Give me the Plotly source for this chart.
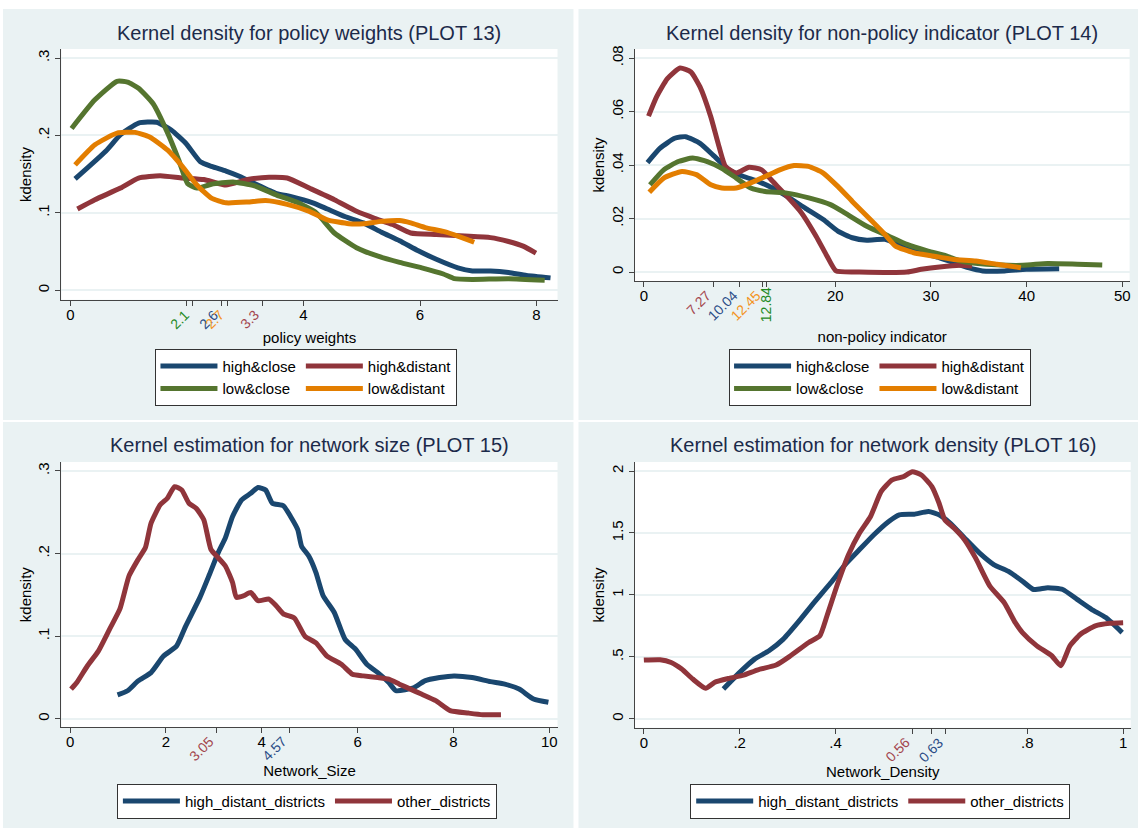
import plotly.graph_objects as go

# ------------------------------------------------------------------ data
# PLOT 13 - kernel density for policy weights
pw_high_close_x = [0.08, 0.61, 0.86, 1.17, 1.48, 1.73, 1.98, 2.23, 2.42, 2.67, 2.91, 3.16, 3.54, 3.79,
                   4.16, 4.41, 4.72, 5.03, 5.34, 5.65, 5.97, 6.28, 6.65, 6.90, 7.21, 7.52, 7.83, 8.24]
pw_high_close_y = [0.144, 0.180, 0.201, 0.216, 0.217, 0.207, 0.190, 0.166, 0.160, 0.154, 0.147, 0.138, 0.125,
                   0.121, 0.113, 0.105, 0.095, 0.087, 0.075, 0.064, 0.051, 0.040, 0.029, 0.025, 0.025, 0.023,
                   0.019, 0.016]
pw_high_distant_x = [0.12, 0.42, 0.86, 1.17, 1.54, 1.92, 2.29, 2.67, 3.04, 3.41, 3.72, 4.10, 4.53, 4.91,
                     5.22, 5.53, 5.84, 6.28, 6.77, 7.21, 7.52, 7.77, 7.99]
pw_high_distant_y = [0.105, 0.117, 0.132, 0.145, 0.148, 0.145, 0.143, 0.136, 0.143, 0.146, 0.145, 0.132,
                     0.117, 0.102, 0.093, 0.085, 0.074, 0.072, 0.070, 0.068, 0.063, 0.057, 0.048]
pw_low_close_x = [0.02, 0.42, 0.80, 0.98, 1.17, 1.42, 1.67, 1.86, 2.01, 2.17, 2.42, 2.79, 3.16, 3.54,
                  3.91, 4.22, 4.53, 4.91, 5.28, 5.65, 6.03, 6.40, 6.59, 6.90, 7.52, 8.14]
pw_low_close_y = [0.209, 0.246, 0.270, 0.269, 0.261, 0.241, 0.203, 0.168, 0.138, 0.132, 0.137, 0.140,
                  0.135, 0.123, 0.113, 0.100, 0.074, 0.055, 0.044, 0.036, 0.029, 0.021, 0.015, 0.014,
                  0.015, 0.013]
pw_low_distant_x = [0.08, 0.42, 0.80, 1.11, 1.36, 1.67, 1.92, 2.17, 2.42, 2.67, 3.04, 3.35, 3.72, 4.10,
                    4.41, 4.78, 5.03, 5.34, 5.65, 5.84, 6.09, 6.40, 6.65, 6.93]
pw_low_distant_y = [0.162, 0.188, 0.203, 0.204, 0.198, 0.181, 0.160, 0.136, 0.119, 0.113, 0.114, 0.116,
                    0.111, 0.102, 0.091, 0.086, 0.086, 0.089, 0.090, 0.087, 0.081, 0.076, 0.070, 0.062]
pw_mean_vals = [2.1, 2.6, 2.7, 3.3]
pw_mean_text = ["2.1", "2.6", "2.7", "3.3"]
pw_xticks = [0, 2, 4, 6, 8]
pw_xtick_text = ["0", "", "4", "6", "8"]
pw_yticks = [0, 0.1, 0.2, 0.3]
pw_ytick_text = ["0", ".1", ".2", ".3"]

# PLOT 14 - kernel density for non-policy indicator
np_high_close_x = [0.38, 1.70, 3.22, 4.36, 5.87, 7.39, 8.9, 10.42, 11.93, 13.45, 14.96, 16.86, 18.75,
                   20.27, 21.78, 23.3, 25.2, 27.1, 29.0, 30.9, 32.4, 33.9, 35.4, 37.7, 39.96, 43.4]
np_high_close_y = [0.0409, 0.0463, 0.0500, 0.0506, 0.0481, 0.0432, 0.0382, 0.0357, 0.0339, 0.0314,
                   0.0283, 0.0239, 0.0196, 0.0153, 0.0128, 0.0119, 0.0122, 0.0097, 0.0072, 0.0053,
                   0.0035, 0.0016, 0.0004, 0.0004, 0.0010, 0.0012]
np_high_distant_x = [0.49, 1.33, 2.46, 3.79, 4.92, 5.87, 7.0, 7.77, 8.52, 9.66, 10.98, 12.31, 13.45,
                     14.96, 16.48, 18.0, 19.13, 20.08, 22.5, 27.5, 29.0, 30.9, 33.1, 34.3]
np_high_distant_y = [0.0583, 0.0655, 0.0723, 0.0763, 0.0748, 0.0692, 0.058, 0.048, 0.0395, 0.037,
                     0.0392, 0.0382, 0.0339, 0.0283, 0.0221, 0.0134, 0.006, 0.0004, 0.0, 0.0, 0.001,
                     0.0019, 0.0025, 0.0022]
np_low_close_x = [0.64, 2.08, 3.6, 5.11, 6.63, 8.14, 9.66, 11.17, 12.69, 14.96, 17.24, 19.5, 21.0, 23.3,
                  25.6, 27.5, 29.7, 31.6, 33.1, 35.8, 39.6, 42.2, 45.3, 47.9]
np_low_close_y = [0.0326, 0.0382, 0.0413, 0.0426, 0.0413, 0.0388, 0.0351, 0.0314, 0.0301, 0.0295,
                  0.0277, 0.0252, 0.0221, 0.0171, 0.0134, 0.0103, 0.0078, 0.006, 0.0041, 0.0029,
                  0.0025, 0.0032, 0.0029, 0.0026]
np_low_distant_x = [0.57, 2.08, 3.98, 5.49, 7.0, 8.14, 9.66, 11.17, 12.69, 14.2, 15.7, 17.2, 18.75,
                    20.27, 21.78, 23.67, 25.2, 26.3, 28.2, 30.1, 32.4, 34.7, 36.9, 39.4]
np_low_distant_y = [0.0298, 0.0351, 0.0376, 0.0364, 0.0326, 0.0314, 0.0314, 0.0333, 0.0357, 0.0382,
                    0.0398, 0.0395, 0.037, 0.032, 0.0264, 0.0196, 0.014, 0.0097, 0.0072, 0.006,
                    0.0047, 0.0041, 0.0029, 0.0016]
np_mean_vals = [7.27, 10.04, 12.45, 12.84]
np_mean_text = ["7.27", "10.04", "12.45", "12.84"]
np_xticks = [0, 10, 20, 30, 40, 50]
np_xtick_text = ["0", "", "20", "30", "40", "50"]
np_yticks = [0, 0.02, 0.04, 0.06, 0.08]
np_ytick_text = ["0", ".02", ".04", ".06", ".08"]

# PLOT 15 - kernel estimation for network size
ns_high_distant_x = [0.99, 1.20, 1.42, 1.69, 1.95, 2.22, 2.41, 2.71, 2.91, 3.09, 3.24, 3.39, 3.58, 3.77,
                     3.92, 4.08, 4.22, 4.45, 4.60, 4.75, 4.83, 4.98, 5.13, 5.28, 5.51, 5.74, 5.96, 6.19,
                     6.42, 6.65, 6.80, 7.18, 7.40, 7.71, 8.01, 8.39, 8.77, 9.07, 9.37, 9.67, 9.98]
ns_high_distant_y = [0.029, 0.034, 0.046, 0.056, 0.076, 0.088, 0.112, 0.147, 0.175, 0.201, 0.219, 0.245,
                     0.265, 0.273, 0.280, 0.277, 0.261, 0.258, 0.245, 0.229, 0.209, 0.197, 0.177, 0.149,
                     0.129, 0.096, 0.084, 0.066, 0.056, 0.044, 0.034, 0.038, 0.046, 0.050, 0.052, 0.050,
                     0.045, 0.042, 0.036, 0.024, 0.020]
ns_other_x = [0.02, 0.14, 0.36, 0.59, 0.82, 1.04, 1.23, 1.42, 1.57, 1.69, 1.88, 2.03, 2.18, 2.33, 2.48,
              2.63, 2.79, 2.94, 3.09, 3.24, 3.39, 3.47, 3.62, 3.77, 3.92, 4.15, 4.30, 4.45, 4.68, 4.90,
              5.13, 5.36, 5.66, 5.89, 6.12, 6.42, 6.65, 6.87, 7.10, 7.33, 7.63, 7.93, 8.31, 8.61, 8.99]
ns_other_y = [0.036, 0.044, 0.064, 0.082, 0.108, 0.133, 0.173, 0.193, 0.207, 0.237, 0.259, 0.267, 0.281,
              0.277, 0.261, 0.255, 0.241, 0.205, 0.195, 0.185, 0.165, 0.147, 0.149, 0.153, 0.143, 0.145,
              0.137, 0.127, 0.122, 0.100, 0.092, 0.076, 0.066, 0.054, 0.052, 0.050, 0.048, 0.042, 0.036,
              0.030, 0.022, 0.010, 0.007, 0.005, 0.005]
ns_mean_vals = [3.05, 4.57]
ns_mean_text = ["3.05", "4.57"]
ns_xticks = [0, 2, 4, 6, 8, 10]
ns_xtick_text = ["0", "2", "4", "6", "8", "10"]
ns_yticks = [0, 0.1, 0.2, 0.3]
ns_ytick_text = ["0", ".1", ".2", ".3"]

# PLOT 16 - kernel estimation for network density
nd_high_distant_x = [0.166, 0.200, 0.231, 0.261, 0.291, 0.321, 0.352, 0.390, 0.420, 0.450, 0.480, 0.511,
                     0.533, 0.564, 0.594, 0.616, 0.639, 0.669, 0.700, 0.730, 0.760, 0.790, 0.813, 0.843,
                     0.874, 0.904, 0.934, 0.964, 0.998]
nd_high_distant_y = [0.241, 0.375, 0.482, 0.549, 0.643, 0.776, 0.924, 1.098, 1.245, 1.366, 1.486, 1.593,
                     1.647, 1.652, 1.673, 1.647, 1.580, 1.460, 1.339, 1.245, 1.192, 1.111, 1.044, 1.058,
                     1.044, 0.964, 0.884, 0.817, 0.696]
nd_other_x = [0.0, 0.034, 0.057, 0.079, 0.102, 0.129, 0.148, 0.178, 0.208, 0.238, 0.276, 0.306, 0.344,
              0.367, 0.382, 0.405, 0.427, 0.450, 0.473, 0.495, 0.518, 0.541, 0.560, 0.579, 0.601, 0.616,
              0.628, 0.647, 0.669, 0.692, 0.722, 0.752, 0.775, 0.790, 0.820, 0.851, 0.870, 0.889, 0.911,
              0.942, 0.972, 1.0]
nd_other_y = [0.474, 0.477, 0.455, 0.402, 0.321, 0.246, 0.295, 0.327, 0.353, 0.396, 0.434, 0.509, 0.616,
              0.669, 0.830, 1.098, 1.325, 1.499, 1.633, 1.834, 1.928, 1.954, 1.995, 1.968, 1.874, 1.740,
              1.606, 1.540, 1.446, 1.299, 1.071, 0.937, 0.776, 0.696, 0.589, 0.509, 0.428, 0.589, 0.683,
              0.750, 0.771, 0.776]
nd_mean_vals = [0.56, 0.63]
nd_mean_text = ["0.56", "0.63"]
nd_xticks = [0, 0.2, 0.4, 0.6, 0.8, 1]
nd_xtick_text = ["0", ".2", ".4", "", ".8", "1"]
nd_yticks = [0, 0.5, 1, 1.5, 2]
nd_ytick_text = ["0", ".5", "1", "1.5", "2"]

# ------------------------------------------------------------------ styles
W, H = 1139, 828
FONT = "Liberation Sans, Arial, Helvetica, sans-serif"
NAVY, MAROON, GREEN, ORANGE = "#1A476F", "#90353B", "#55752F", "#E37E00"
LBL_NAVY, LBL_MAROON, LBL_GREEN, LBL_ORANGE = "#2B4C86", "#A3464D", "#1F8A1F", "#F39222"
BG = "#EAF2F3"
AXIS_COL = "#444444"
TITLE_COL = "#1C2A4A"
LW = 5


def fx(p):
    return p / W


def fy(p):
    return 1 - p / H


# panel geometry in pixels: outer box and plot region (left, top, right, bottom)
panels = [
    dict(box=(3, 5, 574, 418), plot=(61.5, 45.3, 558, 297.3)),
    dict(box=(579, 5, 1139, 418), plot=(635.3, 45.3, 1130.6, 278.3)),
    dict(box=(3, 420, 574, 828), plot=(61.5, 460.3, 558, 726.7)),
    dict(box=(579, 420, 1139, 828), plot=(635.3, 460.3, 1131.7, 727.3)),
]
ranges = [
    ([-0.154, 8.36], [-0.0124, 0.3116]),
    ([-0.95, 50.76], [-0.00335, 0.08335]),
    ([-0.18, 10.17], [-0.0101, 0.3108]),
    ([-0.019, 1.0158], [-0.0723, 2.0723]),
]
titles = ["Kernel density for policy weights (PLOT 13)",
          "Kernel density for non-policy indicator (PLOT 14)",
          "Kernel estimation for network size (PLOT 15)",
          "Kernel estimation for network density (PLOT 16)"]
title_y = [29, 29, 443.5, 443.5]
xtitles = ["policy weights", "non-policy indicator", "Network_Size", "Network_Density"]
xstandoff = [10, 28, 16, 16]
xticks = [(pw_xticks, pw_xtick_text, pw_mean_vals), (np_xticks, np_xtick_text, np_mean_vals),
          (ns_xticks, ns_xtick_text, ns_mean_vals), (nd_xticks, nd_xtick_text, nd_mean_vals)]
yticks = [(pw_yticks, pw_ytick_text), (np_yticks, np_ytick_text),
          (ns_yticks, ns_ytick_text), (nd_yticks, nd_ytick_text)]
mean_labels = [
    (pw_mean_vals, pw_mean_text, [LBL_GREEN, LBL_NAVY, LBL_ORANGE, LBL_MAROON], [-45, -45, -45, -45]),
    (np_mean_vals, np_mean_text, [LBL_MAROON, LBL_NAVY, LBL_ORANGE, LBL_GREEN], [-45, -45, -45, -90]),
    (ns_mean_vals, ns_mean_text, [LBL_MAROON, LBL_NAVY], [-45, -45]),
    (nd_mean_vals, nd_mean_text, [LBL_MAROON, LBL_NAVY], [-45, -45]),
]

fig = go.Figure()


def add_line(x, y, name, color, panel, legend, group):
    sfx = "" if panel == 1 else str(panel)
    fig.add_trace(go.Scatter(
        x=x, y=y, name=name, mode="lines",
        line=dict(color=color, width=LW, shape="spline", smoothing=0.5),
        xaxis="x" + sfx, yaxis="y" + sfx, legend=legend, legendgroup=group,
        hoverinfo="skip"))


add_line(pw_high_close_x, pw_high_close_y, "high&close", NAVY, 1, "legend", "p1a")
add_line(pw_high_distant_x, pw_high_distant_y, "high&distant", MAROON, 1, "legend", "p1b")
add_line(pw_low_close_x, pw_low_close_y, "low&close", GREEN, 1, "legend", "p1a")
add_line(pw_low_distant_x, pw_low_distant_y, "low&distant", ORANGE, 1, "legend", "p1b")

add_line(np_high_close_x, np_high_close_y, "high&close", NAVY, 2, "legend2", "p2a")
add_line(np_high_distant_x, np_high_distant_y, "high&distant", MAROON, 2, "legend2", "p2b")
add_line(np_low_close_x, np_low_close_y, "low&close", GREEN, 2, "legend2", "p2a")
add_line(np_low_distant_x, np_low_distant_y, "low&distant", ORANGE, 2, "legend2", "p2b")

add_line(ns_high_distant_x, ns_high_distant_y, "high_distant_districts", NAVY, 3, "legend3", "p3a")
add_line(ns_other_x, ns_other_y, "other_districts", MAROON, 3, "legend3", "p3b")

add_line(nd_high_distant_x, nd_high_distant_y, "high_distant_districts", NAVY, 4, "legend4", "p4a")
add_line(nd_other_x, nd_other_y, "other_districts", MAROON, 4, "legend4", "p4b")

shapes = []
annotations = []
layout = {}
for i, p in enumerate(panels):
    n = i + 1
    sfx = "" if n == 1 else str(n)
    bl, bt, br, bb = p["box"]
    pl, pt, pr, pb = p["plot"]
    shapes.append(dict(type="rect", xref="paper", yref="paper", layer="below",
                       x0=fx(bl), x1=fx(br), y0=fy(bb), y1=fy(bt),
                       fillcolor=BG, line=dict(width=0)))
    shapes.append(dict(type="rect", xref="paper", yref="paper", layer="below",
                       x0=fx(pl), x1=fx(pr), y0=fy(pb), y1=fy(pt),
                       fillcolor="white", line=dict(width=0)))
    tv, tt, mv = xticks[i]
    layout["xaxis" + sfx] = dict(
        domain=[fx(pl), fx(pr)], range=ranges[i][0], anchor="y" + sfx,
        tickmode="array", tickvals=list(tv) + list(mv), ticktext=list(tt) + [""] * len(mv),
        ticks="outside", ticklen=5, tickwidth=1, tickcolor=AXIS_COL,
        showline=True, linecolor=AXIS_COL, linewidth=1,
        showgrid=False, zeroline=False, tickangle=0, ticklabelstandoff=-4,
        tickfont=dict(family=FONT, size=15, color="black"),
        title=dict(text=xtitles[i], font=dict(family=FONT, size=15, color="black"),
                   standoff=xstandoff[i]),
        fixedrange=True)
    ytv, ytt = yticks[i]
    layout["yaxis" + sfx] = dict(
        domain=[fy(pb), fy(pt)], range=ranges[i][1], anchor="x" + sfx,
        tickmode="array", tickvals=ytv, ticktext=ytt, tickangle=-90,
        ticks="outside", ticklen=5, tickwidth=1, tickcolor=AXIS_COL,
        showline=True, linecolor=AXIS_COL, linewidth=1,
        showgrid=True, gridcolor=BG, gridwidth=1.5, zeroline=False,
        tickfont=dict(family=FONT, size=15, color="black"),
        title=dict(text="kdensity", font=dict(family=FONT, size=15, color="black"), standoff=0),
        fixedrange=True)
    annotations.append(dict(text=titles[i], xref="paper", yref="paper",
                            x=fx((pl + pr) / 2), y=fy(title_y[i]),
                            xanchor="center", yanchor="middle", showarrow=False,
                            font=dict(family=FONT, size=20, color=TITLE_COL)))
    vals, texts, cols, angs = mean_labels[i]
    for v, t, c, a in zip(vals, texts, cols, angs):
        annotations.append(dict(text=t, xref="x" + sfx, yref="paper", x=v, y=fy(pb),
                                yshift=-4, xshift=(0 if a == -90 else 3),
                                xanchor=("center" if a == -90 else "right"), yanchor="top",
                                textangle=a, showarrow=False,
                                font=dict(family=FONT, size=14, color=c)))

leg_common = dict(bgcolor="white", bordercolor="#333333", borderwidth=1,
                  font=dict(family=FONT, size=15, color="black"), itemwidth=57,
                  orientation="h", itemclick=False, itemdoubleclick=False)
layout["legend"] = dict(leg_common, x=fx(155.6), y=fy(375), xanchor="left", yanchor="middle",
                        traceorder="grouped", tracegroupgap=0)
layout["legend2"] = dict(leg_common, x=fx(729.7), y=fy(375), xanchor="left", yanchor="middle",
                         traceorder="grouped", tracegroupgap=0)
layout["legend3"] = dict(leg_common, x=fx(117), y=fy(801), xanchor="left", yanchor="middle",
                         traceorder="normal")
layout["legend4"] = dict(leg_common, x=fx(690.8), y=fy(801), xanchor="left", yanchor="middle",
                         traceorder="normal")

fig.update_layout(
    width=W, height=H, autosize=False,
    margin=dict(l=0, r=0, t=0, b=0, pad=0),
    paper_bgcolor="white", plot_bgcolor="rgba(0,0,0,0)",
    font=dict(family=FONT, size=15, color="black"),
    shapes=shapes, annotations=annotations, showlegend=True,
    **layout)

fig.write_html("out.html", config={"displayModeBar": False, "staticPlot": False},
               post_script="document.body.style.margin='0';document.body.style.overflow='hidden';")
